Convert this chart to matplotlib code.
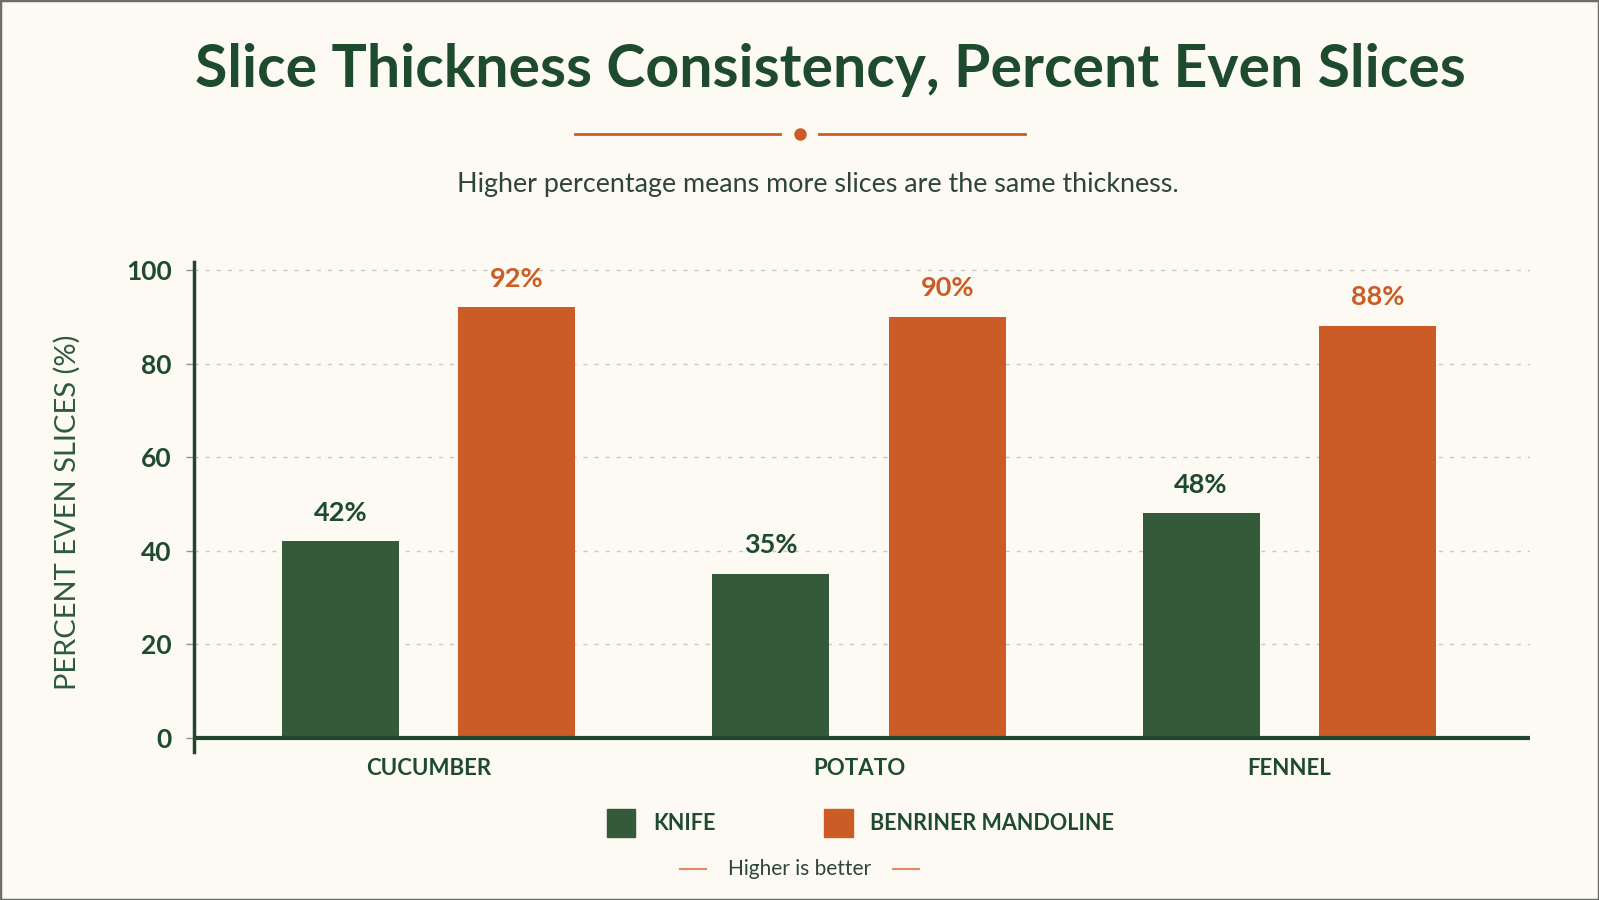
import matplotlib
matplotlib.use("Agg")
import matplotlib.pyplot as plt
from matplotlib.patches import Rectangle
import numpy as np

# data
categories = ["CUCUMBER", "POTATO", "FENNEL"]
knife = [42, 35, 48]
mandoline = [92, 90, 88]
series_names = ["KNIFE", "BENRINER MANDOLINE"]
yticks = [0, 20, 40, 60, 80, 100]

bg = "#FCFAF3"
green = "#355A3A"
orange = "#CC5C26"
dark = "#1E4A2D"
body = "Lato"

plt.rcParams['font.family'] = [body, 'DejaVu Sans']

fig = plt.figure(figsize=(15.99, 9), dpi=100, facecolor=bg)
W, H = 1599, 900

def fx(px):
    return px / W

def fy(py):
    return 1 - py / H

# border
fig.add_artist(Rectangle((0, 0), 1, 1, transform=fig.transFigure, fill=False,
                         edgecolor="#6E6E68", linewidth=2.5))

# title + subtitle
fig.text(fx(830), fy(70), "Slice Thickness Consistency, Percent Even Slices",
         ha="center", va="center", fontsize=42.5, fontweight="bold", color=dark)
fig.add_artist(plt.Line2D([fx(575), fx(780)], [fy(134), fy(134)], color=orange, lw=2))
fig.add_artist(plt.Line2D([fx(819), fx(1025)], [fy(134), fy(134)], color=orange, lw=2))
fig.add_artist(plt.Line2D([fx(800)], [fy(134)], marker="o", markersize=8, color=orange))
fig.text(fx(818), fy(185), "Higher percentage means more slices are the same thickness.",
         ha="center", va="center", fontsize=19.4, color="#2E4538")

# axes
ax = fig.add_axes([fx(194), fy(752), fx(1530) - fx(194), fy(262) - fy(752)])
ax.set_facecolor(bg)
x = np.arange(len(categories))
w = 0.272
off = 0.205
b1 = ax.bar(x - off, knife, w, color=green, zorder=3)
b2 = ax.bar(x + off, mandoline, w, color=orange, zorder=3)

for rect, v in zip(b1, knife):
    ax.annotate(f"{v}%", (rect.get_x() + rect.get_width() / 2, v), xytext=(0, 12),
                textcoords="offset points", ha="center", va="bottom",
                fontsize=19.5, fontweight="bold", color=dark)
for rect, v in zip(b2, mandoline):
    ax.annotate(f"{v}%", (rect.get_x() + rect.get_width() / 2, v), xytext=(0, 12),
                textcoords="offset points", ha="center", va="bottom",
                fontsize=19.5, fontweight="bold", color=orange)

ax.set_xlim(-0.545, 2.559)
ax.set_ylim(-3, 101.7)
ax.set_yticks(yticks)
ax.set_yticklabels([str(t) for t in yticks], fontsize=19, fontweight="bold", color=dark)
ax.tick_params(axis="y", length=6, width=1, color="#8A9A8E", pad=10)
ax.set_xticks(x)
ax.set_xticklabels(categories, fontsize=16, fontweight="bold", color=dark)
ax.tick_params(axis="x", length=0, pad=4)
for t in yticks[1:]:
    ax.axhline(t, color="#C9C9C0", lw=1, ls=(0, (3, 5)), zorder=1)
ax.axhline(0, color="#22452E", lw=3, zorder=4)
for s in ["top", "right", "bottom"]:
    ax.spines[s].set_visible(False)
ax.spines["left"].set_color("#22452E")
ax.spines["left"].set_linewidth(2.5)

fig.text(fx(67), fy(512), "PERCENT EVEN SLICES (%)", rotation=90, ha="center",
         va="center", fontsize=21, color="#2E5B3C")

# legend
fig.add_artist(Rectangle((fx(607), fy(837)), fx(28), fy(809) - fy(837),
                         transform=fig.transFigure, color=green))
fig.text(fx(653), fy(823), series_names[0], ha="left", va="center",
         fontsize=15.5, fontweight="bold", color=dark)
fig.add_artist(Rectangle((fx(824), fy(837)), fx(29), fy(809) - fy(837),
                         transform=fig.transFigure, color=orange))
fig.text(fx(870), fy(823), series_names[1], ha="left", va="center",
         fontsize=15.5, fontweight="bold", color=dark)

# footer note
fig.add_artist(plt.Line2D([fx(680), fx(706)], [fy(869), fy(869)], color="#E08A66", lw=1.5))
fig.add_artist(plt.Line2D([fx(893), fx(919)], [fy(869), fy(869)], color="#E08A66", lw=1.5))
fig.text(fx(800), fy(869), "Higher is better", ha="center", va="center",
         fontsize=15, color="#2E4538")

fig.savefig("out.png", dpi=100, facecolor=bg)
